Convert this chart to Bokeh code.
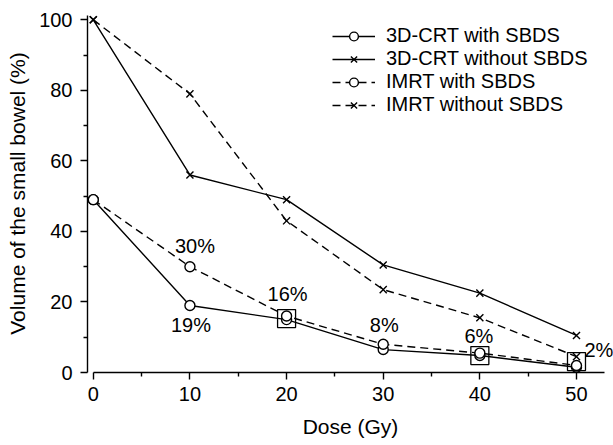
from bokeh.plotting import figure
from bokeh.models import FixedTicker, Legend, LegendItem, ColumnDataSource, Range1d
from bokeh.embed import file_html
from bokeh.resources import INLINE
from bokeh.core.properties import value

# ---- data ----
dose = [0, 10, 20, 30, 40, 50]
crt_with = [49, 19, 15, 6.5, 4.8, 1.5]
crt_without = [100, 56, 49, 30.5, 22.5, 10.5]
imrt_with = [49, 30, 16, 8, 5.5, 2]
imrt_without = [100, 79, 43, 23.5, 15.5, 4.5]

box_dose = [20, 40, 50]
box_volume = [15.3, 4.8, 3.1]

label_text = ["30%", "19%", "16%", "8%", "6%", "2%"]
label_dose = [10, 10, 20, 30, 40, 50]
label_volume = [imrt_with[1], crt_with[1], imrt_with[2], imrt_with[3], imrt_with[4], imrt_with[5]]

x_ticks = [0, 10, 20, 30, 40, 50]
x_minor = [5, 15, 25, 35, 45]
y_ticks = [0, 20, 40, 60, 80, 100]
y_minor = [10, 30, 50, 70, 90]

series_names = ["3D-CRT with SBDS", "3D-CRT without SBDS", "IMRT with SBDS", "IMRT without SBDS"]

FONT = "Liberation Sans"

p = figure(width=613, height=445,
           x_range=Range1d(-0.6, 53.83), y_range=Range1d(0, 101.5),
           output_backend="svg", toolbar_location=None,
           min_border_left=87, min_border_right=0,
           min_border_top=14, min_border_bottom=73)
p.grid.visible = False
p.outline_line_color = None
p.background_fill_color = "white"
p.border_fill_color = "white"

LW = 1.4
DASH = "8 5"

series = [
    (crt_with, "solid", "circle"),
    (crt_without, "solid", "x"),
    (imrt_with, DASH, "circle"),
    (imrt_without, DASH, "x"),
]

line_rs = []
for vals, dash, mk in series:
    r = p.line(dose, vals, line_color="black", line_width=LW, line_dash=dash)
    line_rs.append(r)

marker_rs = []
for vals, dash, mk in series:
    if mk == "circle":
        r = p.scatter(dose, vals, marker="circle", size=10, line_color="black",
                      fill_color="white", line_width=LW)
    else:
        r = p.scatter(dose, vals, marker="x", size=10, line_color="black", line_width=LW)
    marker_rs.append(r)

# highlight boxes
p.scatter(box_dose, box_volume, marker="square", size=18, line_color="black",
          fill_color=None, line_width=1.3)

# percentage labels
lab_src = ColumnDataSource(dict(
    x=label_dose, y=label_volume, text=label_text,
    dx=[5, 1, 1, 1, -1, 8], dy=[-21, 20, -22, -19, -17, -15],
    align=["center", "center", "center", "center", "center", "left"],
))
p.text(x="x", y="y", text="text", x_offset="dx", y_offset="dy", text_align="align",
       source=lab_src, text_baseline="middle", text_font=value(FONT),
       text_font_size="20px", text_color="black")

# axes
xa = p.xaxis[0]
ya = p.yaxis[0]
xa.ticker = FixedTicker(ticks=x_ticks, minor_ticks=x_minor)
ya.ticker = FixedTicker(ticks=y_ticks, minor_ticks=y_minor)
xa.bounds = (0, 52.9)
ya.bounds = (0, 101.2)
xa.axis_label = "Dose (Gy)"
ya.axis_label = "Volume of the small bowel (%)"
for ax in (xa, ya):
    ax.axis_line_color = "black"
    ax.axis_line_width = LW
    ax.major_tick_line_color = "black"
    ax.major_tick_line_width = LW
    ax.minor_tick_line_color = "black"
    ax.minor_tick_line_width = LW
    ax.major_tick_in = 0
    ax.major_tick_out = 7
    ax.minor_tick_in = 0
    ax.minor_tick_out = 4
    ax.major_label_text_font = FONT
    ax.major_label_text_font_size = "20px"
    ax.major_label_text_color = "black"
    ax.axis_label_text_font = FONT
    ax.axis_label_text_font_size = "21px"
    ax.axis_label_text_font_style = "normal"
    ax.axis_label_text_color = "black"
xa.major_label_standoff = 7
xa.axis_label_standoff = 11
ya.major_label_standoff = 8
ya.axis_label_standoff = 7

legend = Legend(items=[LegendItem(label=n, renderers=[l, m])
                       for n, l, m in zip(series_names, line_rs, marker_rs)],
                location=(245, 256))
legend.glyph_width = 43
legend.glyph_height = 22
legend.label_height = 22
legend.label_standoff = 11
legend.spacing = 0
legend.padding = 0
legend.margin = 0
legend.border_line_alpha = 0
legend.background_fill_alpha = 0
legend.label_text_font = FONT
legend.label_text_font_size = "20px"
legend.label_text_color = "black"
p.add_layout(legend, "center")

open("out.html", "w").write(file_html(p, INLINE))
